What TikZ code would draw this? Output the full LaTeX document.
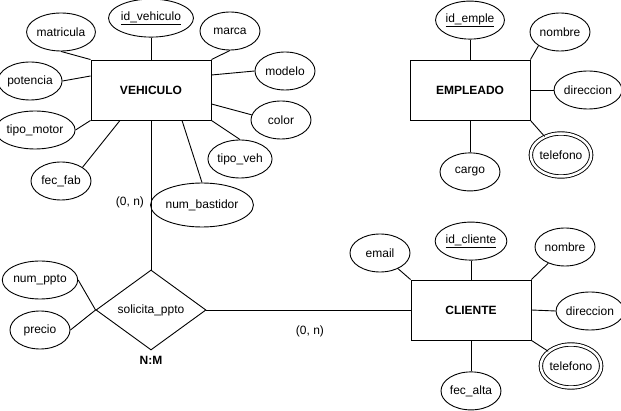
\documentclass[tikz,border=0pt]{standalone}
\usepackage{fontspec}
\setmainfont{Liberation Sans}
\usetikzlibrary{shapes,arrows}
\usetikzlibrary{positioning,calc}

\tikzset{
    attr/.style={ellipse, draw, minimum width=60, minimum height=38, inner sep=0pt},
    multiattr/.style={ellipse, draw, double, double distance=2.5pt, minimum width=57, minimum height=43, inner sep=0pt},
    entity/.style={rectangle, draw, minimum width=120, minimum height=60, font=\fontsize{12}{14}\selectfont\bfseries},
    relation/.style={diamond, draw, minimum width=110, minimum height=80, inner sep=0pt},
    card/.style={inner sep=1pt}
}

\begin{document}
\begin{tikzpicture}[x=1pt, y=-1pt, line width=0.9pt, font=\fontsize{12}{14}\selectfont]
        \useasboundingbox (0,0) rectangle (621,411);

        % entidades
        \node[entity]                  (veh) at (151,90)  {VEHICULO};
        \node[entity]                  (emp) at (470,90)  {EMPLEADO};
        \node[entity]                  (cli) at (471,310) {CLIENTE};
        \node[relation]                (sol) at (151,310) {solicita\_ppto};

        % atributos de VEHICULO
        \node[attr, minimum width=70, above=22pt of veh] (idveh) {\underline{id\_vehiculo}};
        \node[attr]                    (matricula) at (61,32)  {matricula};
        \node[attr]                    (marca)     at (230,31) {marca};
        \node[attr]                    (modelo)    at (285,71) {modelo};
        \node[attr]                    (potencia)  at (30,81)  {potencia};
        \node[attr]                    (color)     at (281,120) {color};
        \node[attr, minimum width=70]  (tipomotor) at (35,130) {tipo\_motor};
        \node[attr]                    (tipoveh)   at (240,159) {tipo\_veh};
        \node[attr]                    (fecfab)    at (61,181) {fec\_fab};
        \node[attr, minimum width=82, minimum height=44] (numbast) at (202,205) {num\_bastidor};

        % atributos de EMPLEADO
        \node[attr, above=20pt of emp]  (idemple)  {\underline{id\_emple}};
        \node[attr]                     (nombre1)  at (560,32)  {nombre};
        \node[attr]                     (direc1)   at (588,90)  {direccion};
        \node[multiattr]                (tel1)     at (561,155) {telefono};
        \node[attr, below=32pt of emp]  (cargo)    {cargo};

        % atributos de CLIENTE
        \node[attr]                     (email)    at (380,253) {email};
        \node[attr, above=19pt of cli]  (idcli)    {\underline{id\_cliente}};
        \node[attr]                     (nombre2)  at (565,247) {nombre};
        \node[attr]                     (direc2)   at (590,311) {direccion};
        \node[multiattr]                (tel2)     at (571,366) {telefono};
        \node[attr, below=31pt of cli]  (fecalta)  {fec\_alta};

        % atributos de la relacion
        \node[attr]                     (numppto)  at (40,280) {num\_ppto};
        \node[attr]                     (precio)   at (40,330) {precio};

        % cardinalidades
        \node[card] (c1) at (130,202) {(0, n)};
        \node[card] (c2) at (310,331) {(0, n)};
        \node[card, font=\fontsize{12}{14}\selectfont\bfseries, below=4pt of sol] (nm) {N:M};

        \draw
            (veh.north) edge (idveh)
            (veh.north west) edge (matricula.south)
            (veh.north east) edge (marca.south)
            ($(veh.east)+(0,-15)$) edge (modelo.west)
            ($(veh.east)+(0,14)$) edge (color.170)
            ($(veh.west)+(0,-14)$) edge (potencia.east)
            (veh.south west) edge (tipomotor.east)
            (veh.south east) edge (tipoveh.north)
            ($(veh.south)+(-31,0)$) edge (fecfab.north east)
            ($(veh.south)+(31,0)$) edge (numbast.north)
            (veh.south) edge (sol.north)
            (sol.east) edge (cli.west)
            (sol.west) edge (numppto.east)
            (sol.west) edge (precio.east)
            (emp.north) edge (idemple)
            (emp.north east) edge (nombre1.south west)
            (emp.east) edge (direc1.west)
            (emp.south east) edge (tel1)
            (emp.south) edge (cargo)
            (cli.north west) edge (email)
            (cli.north) edge (idcli)
            (cli.north east) edge (nombre2)
            (cli.east) edge (direc2.west)
            (cli.south east) edge (tel2)
            (cli.south) edge (fecalta);
\end{tikzpicture}
\end{document}
